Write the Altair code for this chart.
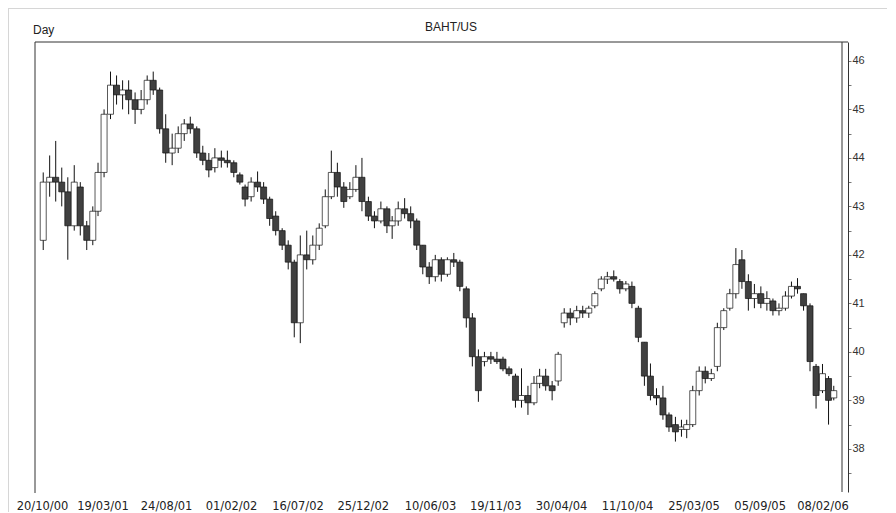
import altair as alt
import pandas as pd

# ---- data (semi-monthly candles) ----
opens = [
    42.3, 43.5, 43.6, 43.5, 43.3, 42.6, 43.4, 42.6, 42.3, 42.9,
    43.7, 44.9, 45.5, 45.3, 45.4, 45.2, 45.0, 45.2, 45.6, 45.4,
    44.6, 44.1, 44.2, 44.5, 44.7, 44.6, 44.1, 43.95, 43.8, 44.0,
    43.95, 43.9, 43.65, 43.4, 43.2, 43.5, 43.4, 43.15, 42.8, 42.5,
    42.2, 41.85, 40.6, 42.0, 41.9, 42.2, 42.6, 43.2, 43.7, 43.4,
    43.2, 43.35, 43.6, 43.1, 42.8, 42.7, 42.95, 42.6, 42.7, 42.95,
    42.85, 42.7, 42.2, 41.75, 41.55, 41.9, 41.6, 41.9, 41.85, 41.3,
    40.7, 39.9, 39.8, 39.9, 39.85, 39.85, 39.65, 39.5, 39.0, 39.1,
    38.95, 39.35, 39.5, 39.3, 39.4, 40.6, 40.8, 40.7, 40.85, 40.8,
    40.95, 41.3, 41.5, 41.55, 41.45, 41.3, 41.35, 40.9, 40.2, 39.5,
    39.1, 39.05, 38.7, 38.5, 38.4, 38.4, 38.5, 39.2, 39.6, 39.45,
    39.7, 40.5, 40.9, 41.2, 41.9, 41.45, 41.1, 41.2, 41.0, 41.05,
    40.85, 40.9, 41.15, 41.35, 41.2, 40.95, 39.7, 39.2, 39.45, 39.05,
]
highs = [
    43.7, 44.05, 44.35, 43.8, 43.6, 43.85, 43.5, 42.7, 43.0, 43.9,
    45.0, 45.78, 45.7, 45.6, 45.6, 45.35, 45.4, 45.7, 45.78, 45.45,
    44.9, 44.5, 44.65, 44.8, 44.85, 44.65, 44.25, 44.1, 44.2, 44.15,
    44.15, 43.95, 43.7, 43.45, 43.6, 43.72, 43.5, 43.2, 42.9, 42.55,
    42.3, 41.9, 42.4, 42.5, 42.4, 42.65, 43.35, 44.15, 43.9, 43.5,
    43.5, 43.85, 44.0, 43.2, 42.9, 43.1, 43.0, 42.8, 43.1, 43.17,
    43.0, 42.75, 42.2, 41.85, 42.0, 41.95, 41.95, 42.04, 41.9, 41.35,
    40.8, 40.05, 40.0, 40.0, 40.0, 39.9, 39.7, 39.55, 39.66, 39.3,
    39.5, 39.65, 39.65, 39.4, 40.0, 40.9, 40.9, 40.95, 40.95, 40.95,
    41.25, 41.56, 41.65, 41.68, 41.5, 41.46, 41.45, 40.95, 40.2, 39.76,
    39.25, 39.3, 38.75, 38.66, 38.6, 38.6, 39.3, 39.7, 39.7, 39.65,
    40.6, 40.9, 41.3, 42.14, 42.1, 41.6, 41.4, 41.35, 41.25, 41.1,
    41.0, 41.25, 41.45, 41.52, 41.2, 41.0, 39.75, 39.75, 39.5, 39.3,
]
lows = [
    42.1, 43.2, 43.1, 43.0, 41.9, 42.5, 42.4, 42.1, 42.2, 42.8,
    43.6, 44.8, 45.1, 45.0, 44.9, 44.7, 44.9, 45.1, 45.3, 44.5,
    43.9, 43.85, 44.1, 44.35, 44.5, 44.0, 43.85, 43.6, 43.7, 43.8,
    43.8, 43.6, 43.45, 43.0, 43.1, 43.3, 43.05, 42.6, 42.4, 42.1,
    41.7, 40.3, 40.18, 41.7, 41.8, 42.1, 42.55, 43.15, 43.2, 42.97,
    43.15, 43.3, 42.9, 42.7, 42.55, 42.65, 42.45, 42.33, 42.6, 42.75,
    42.55, 42.1, 41.6, 41.4, 41.45, 41.45, 41.55, 41.75, 41.25, 40.5,
    39.7, 38.97, 39.7, 39.75, 39.75, 39.6, 39.5, 38.85, 38.85, 38.7,
    38.9, 39.25, 39.2, 39.0, 39.3, 40.5, 40.55, 40.6, 40.7, 40.7,
    40.9, 41.25, 41.4, 41.45, 41.2, 41.25, 40.9, 40.2, 39.3, 39.0,
    38.9, 38.6, 38.35, 38.15, 38.25, 38.22, 38.45, 39.1, 39.35, 39.4,
    39.6, 40.45, 40.85, 41.1, 41.3, 40.85, 40.9, 40.9, 40.85, 40.75,
    40.75, 40.85, 41.1, 41.2, 40.85, 39.6, 38.83, 39.15, 38.5, 39.0,
]
closes = [
    43.5, 43.6, 43.5, 43.3, 42.6, 43.5, 42.6, 42.3, 42.9, 43.7,
    44.9, 45.5, 45.3, 45.4, 45.2, 45.0, 45.2, 45.6, 45.4, 44.6,
    44.1, 44.2, 44.5, 44.7, 44.6, 44.1, 43.95, 43.75, 44.0, 43.95,
    43.9, 43.7, 43.5, 43.15, 43.5, 43.4, 43.15, 42.75, 42.5, 42.2,
    41.85, 40.6, 42.0, 41.9, 42.2, 42.55, 43.2, 43.7, 43.4, 43.1,
    43.35, 43.6, 43.1, 42.8, 42.7, 42.95, 42.6, 42.7, 42.95, 42.85,
    42.7, 42.2, 41.75, 41.55, 41.9, 41.6, 41.9, 41.85, 41.35, 40.7,
    39.9, 39.2, 39.9, 39.85, 39.8, 39.65, 39.55, 39.0, 39.1, 38.95,
    39.35, 39.5, 39.3, 39.2, 39.95, 40.8, 40.7, 40.85, 40.8, 40.9,
    41.2, 41.5, 41.55, 41.5, 41.3, 41.4, 41.0, 40.3, 39.5, 39.1,
    39.05, 38.7, 38.45, 38.35, 38.45, 38.5, 39.2, 39.6, 39.45, 39.55,
    40.5, 40.85, 41.2, 41.8, 41.45, 41.1, 41.2, 41.0, 41.1, 40.85,
    40.9, 41.15, 41.35, 41.3, 40.95, 39.8, 39.1, 39.55, 39.0, 39.2,
]

# candle dates: the 8th and 23rd of each month, 23/10/2000 .. 08/03/2006
dates = []
for yy in range(2000, 2007):
    for mm in range(1, 13):
        for dd in (8, 23):
            s = f"{yy}-{mm:02d}-{dd:02d}"
            if "2000-10-23" <= s <= "2006-03-08":
                dates.append(s)

tick_dates = [(2000, 10, 20), (2001, 3, 19), (2001, 8, 24), (2002, 2, 1),
              (2002, 7, 16), (2002, 12, 25), (2003, 6, 10), (2003, 11, 19),
              (2004, 4, 30), (2004, 10, 11), (2005, 3, 25), (2005, 9, 5),
              (2006, 2, 8)]
y_ticks = [37.5, 38, 38.5, 39, 39.5, 40, 40.5, 41, 41.5, 42, 42.5, 43,
           43.5, 44, 44.5, 45, 45.5, 46]

df = pd.DataFrame({"date": dates, "open": opens, "high": highs,
                   "low": lows, "close": closes})

W, H = 807, 450

xscale = alt.Scale(type="utc",
                   domain=[alt.DateTime(year=2000, month=10, date=15, utc=True),
                           alt.DateTime(year=2006, month=3, date=16, utc=True)])
yscale = alt.Scale(domain=[37.11, 46.39], nice=False, zero=False)


def make_xaxis():
    return alt.Axis(values=[alt.DateTime(year=a, month=b, date=c, utc=True) for a, b, c in tick_dates],
                    format="%d/%m/%y", title=None, grid=False, domain=False,
                    ticks=False, tickSize=0, labelPadding=8, labelFlush=False,
                    labelOverlap=False, labelFont="DejaVu Sans", labelFontSize=11.5,
                    labelColor="#222")


def make_yaxis():
    return alt.Axis(orient="right", offset=6, values=y_ticks,
                    labelExpr="datum.value % 1 == 0 ? format(datum.value, 'd') : ''",
                    title=None, grid=False, domain=True, domainColor="#333",
                    ticks=True, tickSize=3, tickColor="#777", labelPadding=1,
                    labelOverlap=False, labelFlush=False,
                    labelFont="Liberation Sans", labelFontSize=11, labelColor="#333")


base = alt.Chart(df)

wicks = base.mark_rule(color="#111", strokeWidth=1).encode(
    x=alt.X("date:T", scale=xscale, axis=make_xaxis()),
    y=alt.Y("low:Q", scale=yscale, axis=make_yaxis()),
    y2="high:Q",
)

bodies = base.mark_bar(size=6, stroke="#111", strokeWidth=0.7).encode(
    x=alt.X("date:T", scale=xscale, axis=make_xaxis()),
    y=alt.Y("open:Q", scale=yscale, axis=make_yaxis()),
    y2="close:Q",
    fill=alt.condition("datum.close < datum.open", alt.value("#404040"), alt.value("#ffffff")),
)

one = alt.Chart(pd.DataFrame({"k": [0]}))

frame_left = one.mark_rule(color="#333", strokeWidth=1).encode(
    x=alt.value(0), y=alt.value(0), y2=alt.value(H + 1))
frame_right = one.mark_rule(color="#333", strokeWidth=1).encode(
    x=alt.value(W), y=alt.value(0), y2=alt.value(H))
frame_top = one.mark_rule(color="#333", strokeWidth=1).encode(
    x=alt.value(0), x2=alt.value(W + 6), y=alt.value(0))
outer_top = one.mark_rule(color="#d6d6d6", strokeWidth=1).encode(
    x=alt.value(-27), x2=alt.value(W + 45), y=alt.value(-33.5))
outer_left = one.mark_rule(color="#d6d6d6", strokeWidth=1).encode(
    x=alt.value(-26.5), y=alt.value(-34), y2=alt.value(H + 20))

title_txt = alt.Chart(pd.DataFrame({"t": ["BAHT/US"]})).mark_text(
    font="Liberation Sans", fontSize=12, color="#222", align="center",
    baseline="alphabetic").encode(x=alt.value(416), y=alt.value(-11.5), text="t:N")
day_txt = alt.Chart(pd.DataFrame({"t": ["Day"]})).mark_text(
    font="Liberation Sans", fontSize=12, color="#222", align="left",
    baseline="alphabetic").encode(x=alt.value(-2), y=alt.value(-8), text="t:N")

chart = alt.layer(
    outer_top, outer_left, frame_left, frame_right, frame_top,
    wicks, bodies, title_txt, day_txt
).properties(
    width=W, height=H, autosize="none",
    padding={"left": 27, "top": 34, "right": 45, "bottom": 20},
    background="white",
).configure_view(stroke=None)

chart.save("out.html", embed_options={"renderer": "svg", "actions": False})
